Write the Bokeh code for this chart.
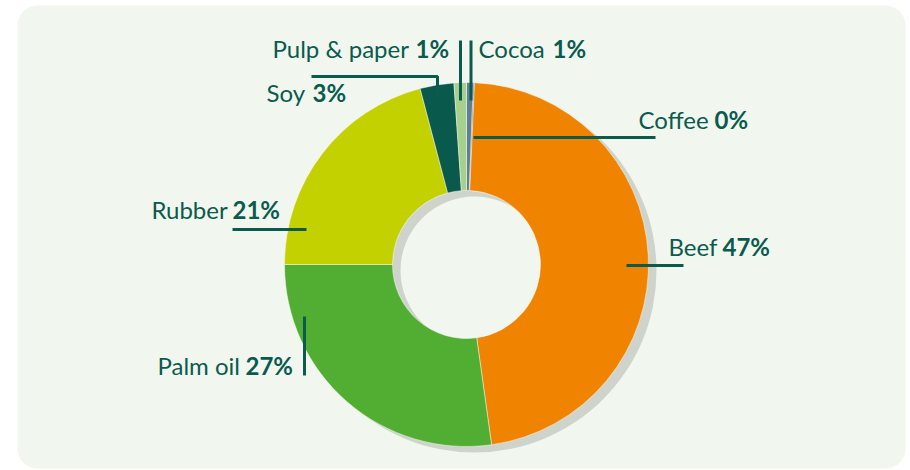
import numpy as np
from bokeh.plotting import figure
from bokeh.models import Range1d, BoxAnnotation, ColumnDataSource
from bokeh.core.properties import value
from bokeh.embed import file_html
from bokeh.resources import INLINE

# ---- data (clockwise from 12 o'clock) ----
categories = ["Cocoa", "Coffee", "Beef", "Palm oil", "Rubber", "Soy", "Pulp & paper"]
shares = [0.6, 0.1, 47.1, 27.2, 20.9, 3.0, 1.1]
pct_labels = ["1%", "0%", "47%", "27%", "21%", "3%", "1%"]
colors = ["#5e7f98", "#4a6d8a", "#f08300", "#52ae32", "#c4d100", "#09594c", "#a8d08d"]

W, H = 910, 470
TEXT = "#0b5a4e"
TEXT_SHIFT = 10  # compensation for renderer baseline offset

def Y(py):
    return H - py

# layout (pixel coordinates of the page)
cx, cy = 466, 264
R_out, R_in = 182, 74

label_name_x = [478, 638, 668, 157, 151, 266, 272]
label_pct_x = [552, 714, 722, 245, 232, 312, 415]
label_base_y = [58, 129, 256, 375, 219, 102, 58]
leader_xs = [[470.5, 470.5], [655, 473], [683, 626], [304, 304], [232, 306], [311, 437, 437], [460, 460]]
leader_ys = [[40, 100], [137, 137], [265, 265], [316, 375], [229, 229], [76, 76, 100], [40, 100]]

tot = float(sum(shares))
cum = np.concatenate([[0.0], np.cumsum(shares)]) / tot
start = np.pi / 2 - 2 * np.pi * cum[:-1]
end = np.pi / 2 - 2 * np.pi * cum[1:]

src = ColumnDataSource(dict(cat=categories, start=start, end=end, color=colors))

p = figure(width=W, height=H, x_range=Range1d(0, W), y_range=Range1d(0, H),
           output_backend="svg", toolbar_location=None,
           x_axis_location=None, y_axis_location=None, min_border=0)
p.grid.visible = False
p.outline_line_color = None
p.background_fill_color = "white"
p.border_fill_color = "white"

panel = BoxAnnotation(left=17, right=905, top=Y(5), bottom=Y(468),
                      fill_color="#f1f7ee", fill_alpha=1, line_color=None,
                      border_radius=20, level="underlay")
p.add_layout(panel)

# shadow
p.annulus(x=[cx + 8], y=[Y(cy) - 6], inner_radius=R_in, outer_radius=R_out,
          fill_color="#ced4cb", line_color=None)

p.annular_wedge(x=cx, y=Y(cy), inner_radius=R_in, outer_radius=R_out,
                start_angle="start", end_angle="end", direction="clock",
                fill_color="color", line_color="white", line_alpha=0.45, line_width=1,
                source=src)

p.multi_line(xs=leader_xs, ys=[[Y(v) for v in ys] for ys in leader_ys],
             line_color=TEXT, line_width=3)

lab = ColumnDataSource(dict(nx=label_name_x, px=label_pct_x,
                            y=[Y(v - TEXT_SHIFT) for v in label_base_y],
                            name=categories, pct=pct_labels))
p.text(x="nx", y="y", text="name", source=lab, text_font=value("Lato"),
       text_font_size="24px", text_color=TEXT, text_align="left",
       text_baseline="alphabetic")
p.text(x="px", y="y", text="pct", source=lab, text_font=value("Lato"),
       text_font_size="24px", text_font_style="bold", text_color=TEXT,
       text_align="left", text_baseline="alphabetic")

open("out.html", "w").write(file_html(p, INLINE))
